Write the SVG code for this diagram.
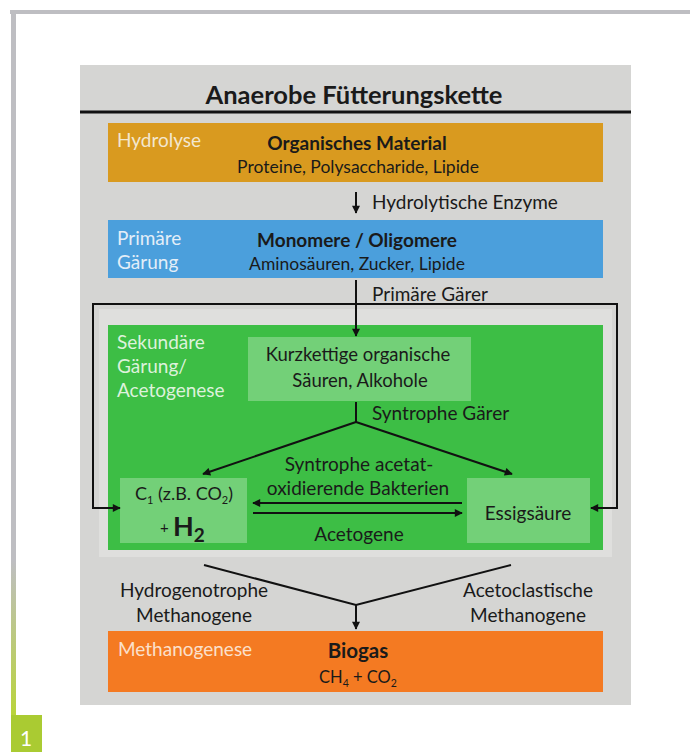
<svg xmlns="http://www.w3.org/2000/svg" width="690" height="752" viewBox="0 0 690 752">
<defs>
<linearGradient id="side" x1="0" y1="0" x2="0" y2="1">
<stop offset="0" stop-color="#BEBEC2"/>
<stop offset="0.78" stop-color="#BEBEC2"/>
<stop offset="1" stop-color="#B9D43A"/>
</linearGradient>
<marker id="ah" viewBox="0 0 10 10" refX="9" refY="5" markerWidth="9" markerHeight="8" markerUnits="userSpaceOnUse" orient="auto">
<path d="M0,0 L10,5 L0,10 z" fill="#111"/>
</marker>
</defs>
<style>
text{font-family:Lato,"Liberation Sans",sans-serif;fill:#1a1a1a;}
.t{font-size:17.5px;text-anchor:middle;}
.m{font-size:19px;text-anchor:middle;}
.b{font-size:19px;font-weight:bold;text-anchor:middle;}
.l{font-size:19px;}
.ph{font-size:19px;fill:#F3E7CF;}
.ln{stroke:#111;stroke-width:2;fill:none;}
.lb{fill:#FFFFFF;fill-opacity:0.28;}
</style>
<rect x="0" y="0" width="690" height="752" fill="#FFFFFF"/>
<g id="frame">
<rect x="10" y="10" width="680" height="4" fill="#BEBEC2"/>
<rect x="11" y="10" width="5" height="706" fill="url(#side)"/>
<rect x="11" y="715" width="31" height="37" fill="#AACB32"/>
<text x="20" y="746" style="font-size:21px;fill:#FFFFFF">1</text>
</g>
<g id="panel">
<rect x="80" y="65" width="551" height="640" fill="#D5D5D3"/>
<text x="354" y="104" style="font-size:25.5px;font-weight:bold;text-anchor:middle">Anaerobe Fütterungskette</text>
<rect x="80" y="110.5" width="551" height="3" fill="#111"/>
<rect x="99" y="309" width="513" height="248" fill="#DFDFDD"/>
</g>
<g id="hydrolyse">
<rect x="108" y="123" width="495" height="59" fill="#D99A1F"/>
<text x="117" y="147" class="ph">Hydrolyse</text>
<text x="357" y="150" class="b">Organisches Material</text>
<text x="358" y="173" class="t">Proteine, Polysaccharide, Lipide</text>
</g>
<g id="primaer">
<rect x="108" y="220" width="495" height="58" fill="#4B9FDC"/>
<text x="117" y="245" class="ph" style="fill:#E3EEF8">Primäre</text>
<text x="117" y="269" class="ph" style="fill:#E3EEF8">Gärung</text>
<text x="357" y="247" class="b">Monomere / Oligomere</text>
<text x="357" y="270" class="t">Aminosäuren, Zucker, Lipide</text>
</g>
<g id="sekundaer">
<rect x="108" y="325" width="495" height="225" fill="#3DBE45"/>
<text x="117" y="349" class="ph" style="fill:#DDF2DC">Sekundäre</text>
<text x="117" y="373" class="ph" style="fill:#DDF2DC">Gärung/</text>
<text x="117" y="397" class="ph" style="fill:#DDF2DC">Acetogenese</text>
</g>
<g id="kurzkettig">
<rect x="248" y="337" width="223" height="64" class="lb"/>
<text x="358" y="361" class="m" style="font-size:18.5px">Kurzkettige organische</text>
<text x="360" y="387" class="m" style="font-size:18.5px">Säuren, Alkohole</text>
</g>
<g id="c1h2">
<rect x="120" y="478" width="127" height="65" class="lb"/>
<text x="184" y="500" class="m" style="font-size:18px">C<tspan style="font-size:11px" dy="4">1</tspan><tspan dy="-4"> (z.B. CO</tspan><tspan style="font-size:11px" dy="4">2</tspan><tspan dy="-4">)</tspan></text>
<text x="160" y="533" style="font-size:15px">+</text>
<text x="173" y="536" style="font-size:27px;font-weight:bold">H<tspan style="font-size:19px" dy="6">2</tspan></text>
</g>
<g id="essig">
<rect x="467" y="478" width="123" height="65" class="lb"/>
<text x="528" y="520" class="m">Essigsäure</text>
</g>
<g id="methan">
<rect x="108" y="631" width="495" height="61" fill="#F47A22"/>
<text x="118" y="656" class="ph" style="fill:#FBE0CC">Methanogenese</text>
<text x="358" y="658" class="b" style="font-size:20.5px">Biogas</text>
<text x="358" y="683" class="t" style="font-size:16.5px">CH<tspan style="font-size:10.5px" dy="4">4</tspan><tspan dy="-4"> + CO</tspan><tspan style="font-size:10.5px" dy="4">2</tspan></text>
</g>
<g id="connectors">
<line x1="356" y1="192" x2="356" y2="213" class="ln" marker-end="url(#ah)"/>
<line x1="356" y1="280" x2="356" y2="336" class="ln" marker-end="url(#ah)"/>
<path d="M356,304 H93 V508 H120" class="ln" marker-end="url(#ah)"/>
<path d="M356,304 H617 V508 H591" class="ln" marker-end="url(#ah)"/>
<line x1="356" y1="402" x2="356" y2="422" class="ln"/>
<line x1="356" y1="422" x2="203" y2="474" class="ln" marker-end="url(#ah)"/>
<line x1="356" y1="422" x2="512" y2="474" class="ln" marker-end="url(#ah)"/>
<line x1="462" y1="503" x2="253" y2="503" class="ln" marker-end="url(#ah)"/>
<line x1="253" y1="513" x2="462" y2="513" class="ln" marker-end="url(#ah)"/>
<path d="M204,565 L356,605 L511,565" class="ln"/>
<line x1="356" y1="605" x2="356" y2="629" class="ln" marker-end="url(#ah)"/>
</g>
<g id="labels">
<text x="372" y="209" class="l">Hydrolytische Enzyme</text>
<text x="372" y="301" class="l">Primäre Gärer</text>
<text x="372" y="420" class="l">Syntrophe Gärer</text>
<text x="359" y="471" class="m">Syntrophe acetat-</text>
<text x="358" y="495" class="m">oxidierende Bakterien</text>
<text x="359" y="541" class="m">Acetogene</text>
<text x="194" y="597" class="m">Hydrogenotrophe</text>
<text x="194" y="622" class="m">Methanogene</text>
<text x="528" y="597" class="m">Acetoclastische</text>
<text x="528" y="622" class="m">Methanogene</text>
</g>
</svg>
